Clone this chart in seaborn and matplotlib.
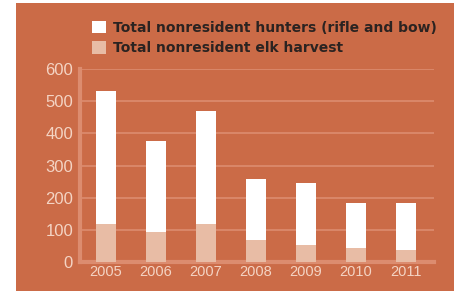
import matplotlib
matplotlib.use('Agg')
import matplotlib.pyplot as plt
import seaborn as sns
import pandas as pd
from matplotlib.patches import Patch, Rectangle

years = ['2005', '2006', '2007', '2008', '2009', '2010', '2011']
hunters = [531, 376, 469, 258, 246, 183, 183]
harvest = [119, 94, 118, 69, 53, 44, 37]
labels = ['Total nonresident hunters (rifle and bow)', 'Total nonresident elk harvest']

df = pd.DataFrame({'year': years, 'hunters': hunters, 'harvest': harvest})

orange = '#CB6B47'
light = '#E8BCA5'
tick_col = '#F4D4C4'
line_col = '#DC8C6F'

sns.set_style('white')
tick_font = ['Liberation Sans', 'DejaVu Sans']

fig = plt.figure(figsize=(4.54, 2.91), dpi=100, facecolor='white')
# orange panel behind everything
fig.patches.append(Rectangle((16 / 454, 0), 1 - 16 / 454, 1 - 3 / 291,
                             transform=fig.transFigure, facecolor=orange,
                             edgecolor='none', zorder=-5))

ax = fig.add_axes([80 / 454, 1 - 262 / 291, (434 - 80) / 454, (262 - 69) / 291])
ax.set_facecolor('none')
ax.set_zorder(2)

sns.barplot(data=df, x='year', y='hunters', color='white', width=0.4,
            saturation=1, linewidth=0, ax=ax, zorder=2)
sns.barplot(data=df, x='year', y='harvest', color=light, width=0.4,
            saturation=1, linewidth=0, ax=ax, zorder=3)

ax.set_ylim(0, 600)
ax.set_xlim(-0.52, 6.56)
ax.set_yticks(range(0, 601, 100))
ax.set_xlabel('')
ax.set_ylabel('')
ax.set_axisbelow(True)
ax.yaxis.grid(True, color=line_col, linewidth=1.2)
for s in ['top', 'right']:
    ax.spines[s].set_visible(False)
for s in ['left', 'bottom']:
    ax.spines[s].set_color(line_col)
    ax.spines[s].set_linewidth(3)
ax.tick_params(axis='both', length=0)
ax.tick_params(axis='y', pad=5, labelcolor=tick_col)
ax.tick_params(axis='x', pad=2, labelcolor=tick_col)
for t in ax.get_yticklabels():
    t.set_family(tick_font)
    t.set_fontsize(12)
for t in ax.get_xticklabels():
    t.set_family(tick_font)
    t.set_fontsize(10.5)

handles = [Patch(facecolor='white', edgecolor='none'),
           Patch(facecolor=light, edgecolor='none')]
leg = fig.legend(handles, labels, loc='upper left', bbox_to_anchor=(92 / 454, 1 - 21 / 291),
                 frameon=False, prop={'weight': 'bold', 'size': 10},
                 handlelength=1.0, handleheight=1.0, handletextpad=0.5,
                 labelspacing=0.45, borderpad=0, borderaxespad=0)
for t in leg.get_texts():
    t.set_color('#2B2321')

fig.savefig('out.png', dpi=100, facecolor='white')
